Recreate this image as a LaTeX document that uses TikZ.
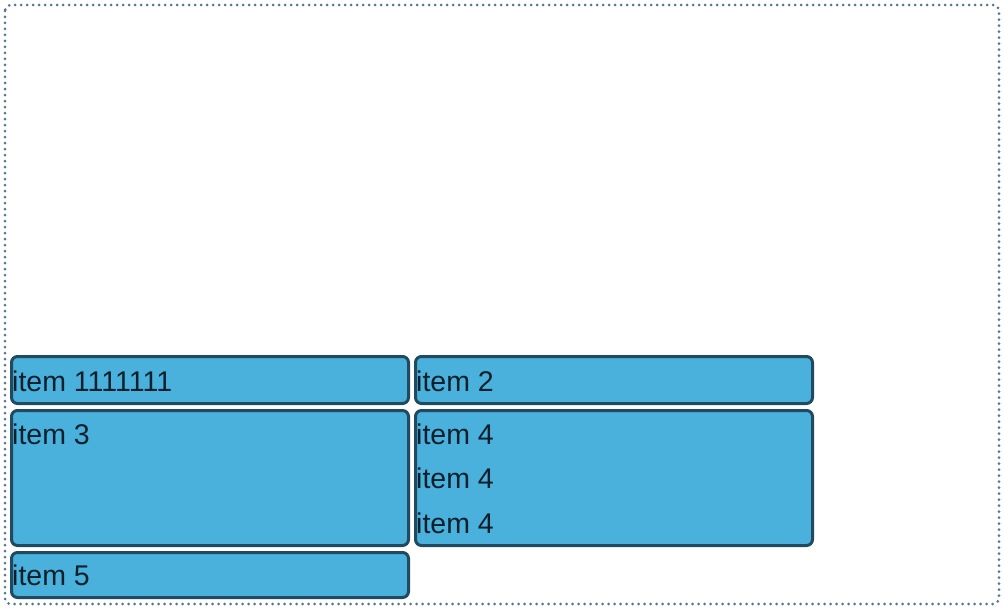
\documentclass[tikz,border=0pt]{standalone}
\usepackage{fontspec}
\setmainfont{Liberation Sans}
\usepackage{xcolor}
\usetikzlibrary{positioning}

\definecolor{itemfill}{HTML}{4AB0DC}
\definecolor{itemline}{HTML}{1F4A5F}
\definecolor{itemtxt}{HTML}{0C202B}
\definecolor{frameline}{HTML}{56778D}

\begin{document}
\begin{tikzpicture}[
  x=1pt, y=-1pt,
  box/.style={draw=itemline, fill=itemfill, line width=3pt, rounded corners=6pt,
    minimum width=397pt, minimum height=47pt, inner sep=0pt},
  tallbox/.style={box, minimum height=135pt},
  itemtext/.style={anchor=base west, inner sep=0pt, text=itemtxt,
    font=\fontsize{28.5}{34}\selectfont},
  frame/.style={draw=frameline, line width=3pt, line cap=round,
    dash pattern=on 0pt off 6pt, rounded corners=6pt},
  node distance=4pt
]
\useasboundingbox (0,0) rectangle (1004,610);
\draw[frame] (5,5) rectangle (999,604);

\node[box, anchor=north west] (b1) at (10,355) {};
\node[box, right=of b1] (b2) {};
\node[tallbox, below=of b1] (b3) {};
\node[tallbox, below=of b2] (b4) {};
\node[box, minimum height=45pt, below=of b3] (b5) {};

\node[itemtext] (t1) at ([shift={(2,36)}]b1.north west) {item 1111111};
\node[itemtext] (t2) at ([shift={(2,36)}]b2.north west) {item 2};
\node[itemtext] (t3) at ([shift={(2,35)}]b3.north west) {item 3};
\foreach \i/\dy in {1/35, 2/79, 3/124}
  \node[itemtext] (t4\i) at ([shift={(2,\dy)}]b4.north west) {item 4};
\node[itemtext] (t5) at ([shift={(2,34)}]b5.north west) {item 5};
\end{tikzpicture}
\end{document}
